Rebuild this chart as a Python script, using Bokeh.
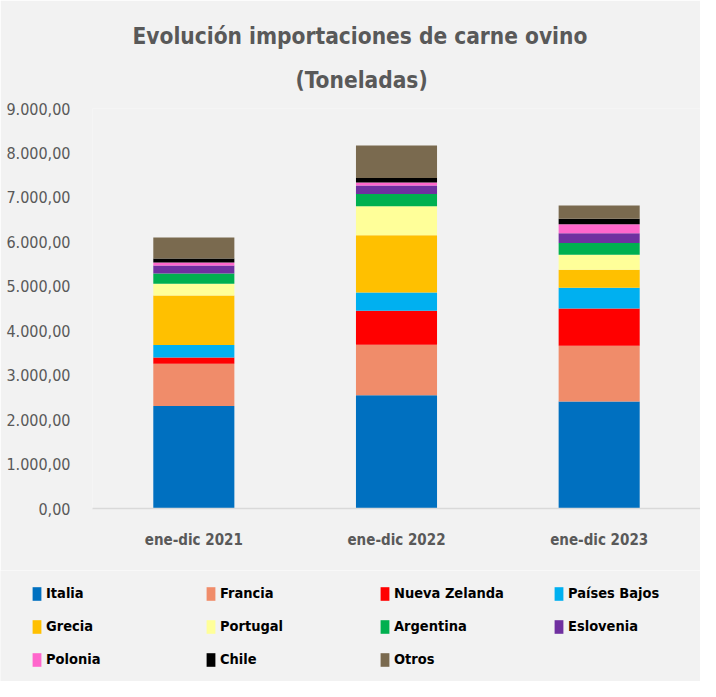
import numpy as np
from bokeh.plotting import figure
from bokeh.models import FactorRange, Range1d, FixedTicker, Legend, LegendItem, Title
from bokeh.layouts import column
from bokeh.embed import file_html
from bokeh.resources import INLINE

periods = ["ene-dic 2021", "ene-dic 2022", "ene-dic 2023"]
countries = ["Italia", "Francia", "Nueva Zelanda", "Países Bajos", "Grecia", "Portugal",
             "Argentina", "Eslovenia", "Polonia", "Chile", "Otros"]
italia = [2309, 2550, 2406]
francia = [946, 1133, 1255]
nueva_zelanda = [142, 766, 840]
paises_bajos = [280, 412, 466]
grecia = [1117, 1285, 406]
portugal = [263, 653, 338]
argentina = [232, 279, 263]
eslovenia = [181, 187, 217]
polonia = [67, 68, 202]
chile = [90, 106, 129]
otros = [473, 727, 293]
y_ticks = [0, 1000, 2000, 3000, 4000, 5000, 6000, 7000, 8000, 9000]

colors = ["#0070C0", "#F08C6A", "#FF0000", "#00B0F0", "#FFC000", "#FFFF99",
          "#00B050", "#7030A0", "#FF66CC", "#000000", "#7A6A4F"]

series = [italia, francia, nueva_zelanda, paises_bajos, grecia, portugal,
          argentina, eslovenia, polonia, chile, otros]
data = {"period": periods}
for name, vals in zip(countries, series):
    data[name] = vals

FONT = "'DejaVu Sans Condensed', Lato, sans-serif"
BG = "#F2F2F2"

p = figure(x_range=FactorRange(*periods), y_range=Range1d(0, 9000),
           width=700, height=570, output_backend="svg", toolbar_location=None,
           background_fill_color=BG, border_fill_color=BG, outline_line_color=None,
           min_border_left=92, min_border_right=0, min_border_top=108, min_border_bottom=62,
           frame_align=False)

p.vbar_stack(countries, x="period", width=0.4, color=colors, source=data, line_color=None)

p.xgrid.grid_line_color = None
p.ygrid.grid_line_color = None

def fmt(v):
    s = f"{v:,.2f}"
    return s.replace(",", "X").replace(".", ",").replace("X", ".")

p.yaxis.ticker = FixedTicker(ticks=y_ticks)
p.yaxis.major_label_overrides = {t: fmt(t) for t in y_ticks}
p.yaxis.axis_line_color = None
p.yaxis.major_tick_line_color = None
p.yaxis.minor_tick_line_color = None
p.yaxis.major_label_text_font = FONT
p.yaxis.major_label_text_font_size = "16px"
p.yaxis.major_label_text_color = "#595959"
p.yaxis.major_label_standoff = 16

p.xaxis.axis_line_color = "#D9D9D9"
p.xaxis.axis_line_width = 1.5
p.xaxis.major_tick_line_color = None
p.xaxis.minor_tick_line_color = None
p.xaxis.major_label_text_font = FONT
p.xaxis.major_label_text_font_style = "bold"
p.xaxis.major_label_text_font_size = "15px"
p.xaxis.major_label_text_color = "#595959"
p.xaxis.major_label_standoff = 16

t2 = Title(text="(Toneladas)", align="left", offset=203, standoff=32, text_font=FONT,
           text_font_size="22.5px", text_font_style="bold", text_color="#595959")
t1 = Title(text="Evolución importaciones de carne ovino", align="left", offset=40, standoff=0,
           text_font=FONT, text_font_size="22.5px", text_font_style="bold", text_color="#595959")
p.add_layout(t2, "above")
p.add_layout(t1, "above")

# legend panel (swatches come from NaN-only renderers, so nothing is drawn in the frame)
lg = figure(width=700, height=111, output_backend="svg", toolbar_location=None,
            x_range=Range1d(0, 1), y_range=Range1d(0, 1),
            background_fill_color=BG, border_fill_color=BG, outline_line_color=None,
            min_border=0, x_axis_type=None, y_axis_type=None, frame_align=False)
lg.xgrid.grid_line_color = None
lg.ygrid.grid_line_color = None
swatch = {}
for c, col in zip(countries, colors):
    swatch[c] = lg.vbar(x=np.array([np.nan]), top=np.array([np.nan]), width=0.1,
                        color=col, line_color=None)
ncols = 4
nrows = 3
order = []
for ci in range(ncols):
    for ri in range(nrows):
        k = ri * ncols + ci
        if k < len(countries):
            order.append(countries[k])
items = [LegendItem(label=c, renderers=[swatch[c]]) for c in order]
legend = Legend(items=items, ncols=ncols, location=(31, 12),
                background_fill_alpha=0, border_line_color=None,
                glyph_width=11, glyph_height=17, label_width=146, label_height=20,
                label_standoff=4, spacing=13, padding=0, margin=0,
                label_text_font=FONT, label_text_font_style="bold",
                label_text_font_size="14.5px", label_text_color="#000000")
lg.add_layout(legend, "center")

layout = column(p, lg, spacing=0)
open("out.html", "w").write(file_html(layout, INLINE))
